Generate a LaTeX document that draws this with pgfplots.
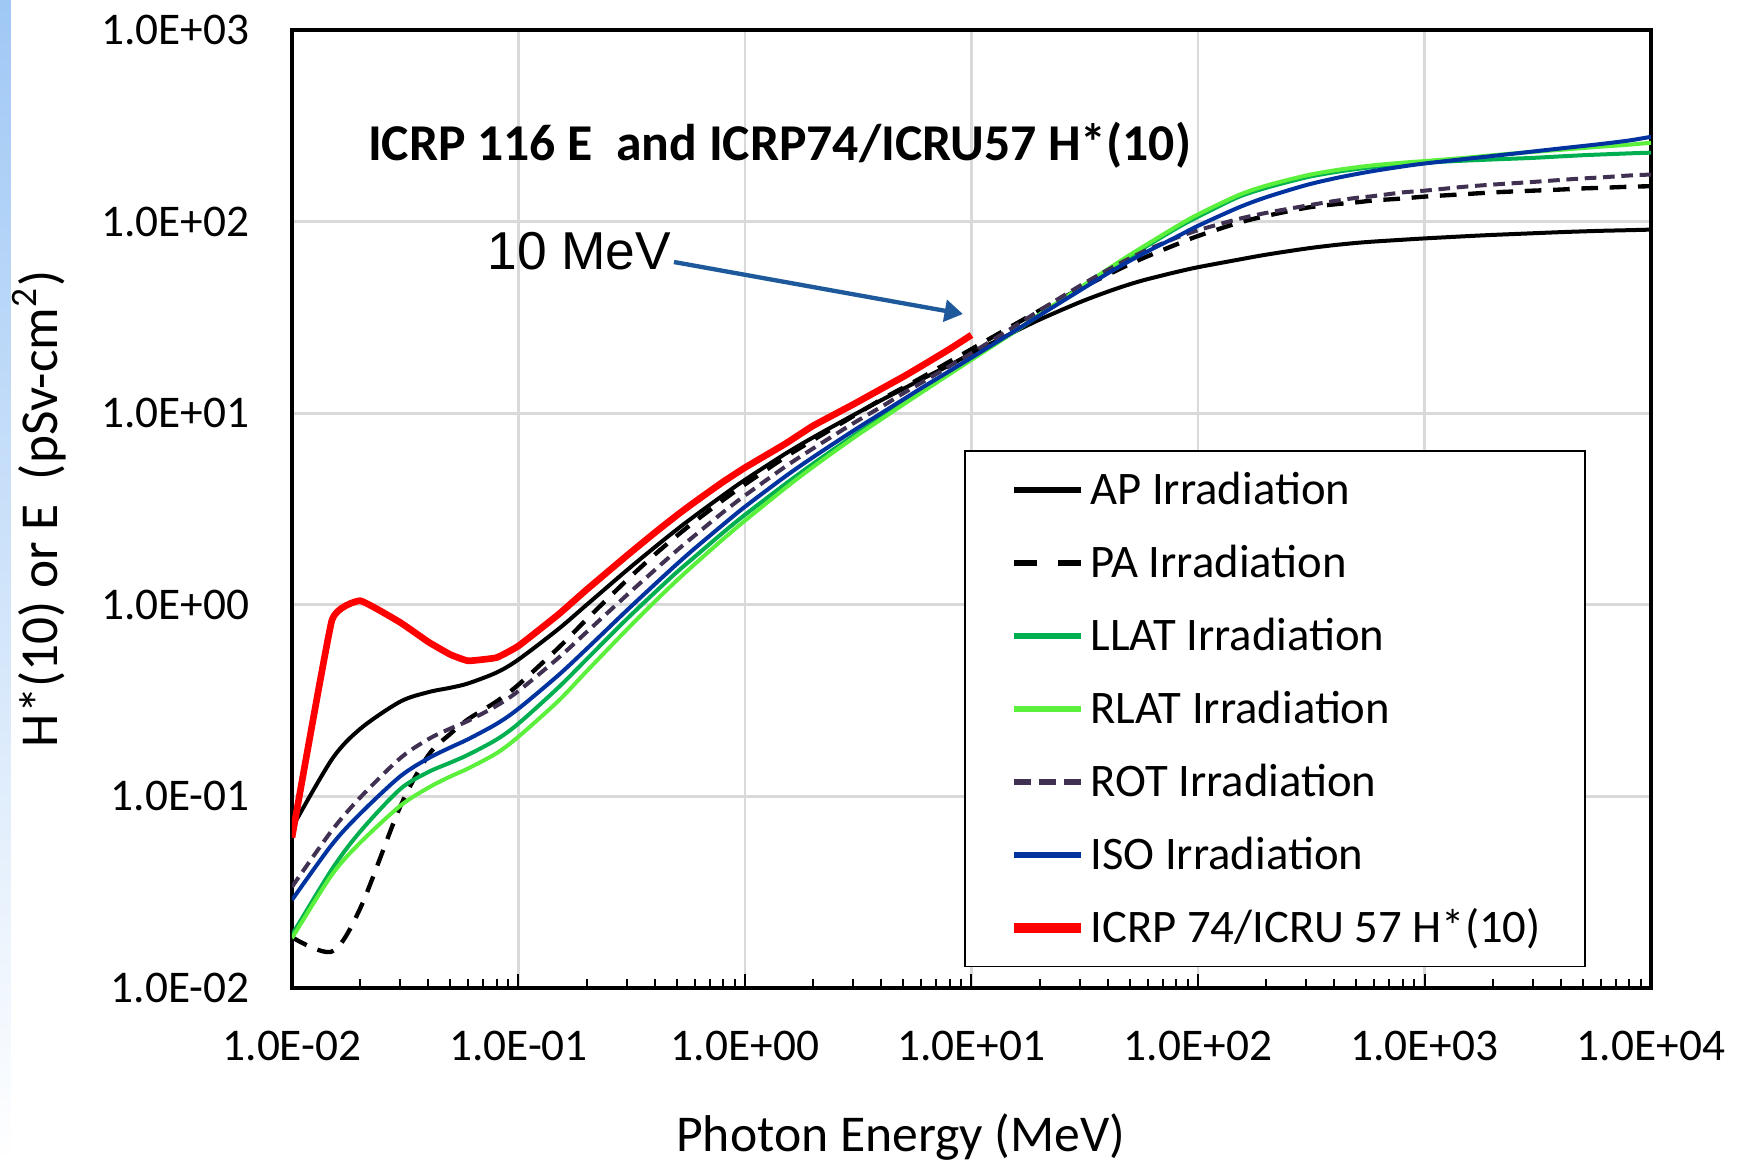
\documentclass[border=0pt]{standalone}
\usepackage{fontspec}
\setmainfont{Carlito}
\newfontfamily\arialfont{Liberation Sans}
\usepackage{pgfplots}
\usepackage{pgfplotstable}
\pgfplotsset{compat=1.18}
\usetikzlibrary{arrows.meta}

\definecolor{llat}{RGB}{0,176,80}
\definecolor{rlat}{RGB}{90,240,60}
\definecolor{rotc}{RGB}{64,49,82}
\definecolor{isoc}{RGB}{0,50,160}
\definecolor{arrowc}{RGB}{30,90,155}
\definecolor{gridc}{RGB}{217,217,217}

\pgfplotsset{
  legPA/.style={legend image code/.code={\path[draw=none] (-3.5pt,-3.7pt) -- (-3.5pt,3.7pt); \draw[black, line width=1.8pt, dash pattern=on 6.8pt off 6.4pt] (0pt,0pt) -- (20pt,0pt);}},
  legROT/.style={legend image code/.code={\path[draw=none] (-3.5pt,-3.7pt) -- (-3.5pt,3.7pt); \draw[rotc, line width=1.8pt, dash pattern=on 5pt off 2.5pt] (0pt,0pt) -- (20pt,0pt);}},
  legRED/.style={legend image code/.code={\path[draw=none] (-3.5pt,-3.7pt) -- (-3.5pt,3.7pt); \draw[red, line width=3pt] (0pt,0pt) -- (20pt,0pt);}},
}

\pgfplotstableread{
E AP PA LLAT RLAT ROT ISO
0.01 0.0685 0.0184 0.0189 0.0182 0.0337 0.0288
0.015 0.156 0.0155 0.0416 0.0390 0.0664 0.0560
0.02 0.225 0.0260 0.0655 0.0573 0.0986 0.0812
0.03 0.312 0.0880 0.109 0.0891 0.158 0.127
0.04 0.350 0.164 0.134 0.111 0.199 0.158
0.05 0.369 0.212 0.150 0.127 0.226 0.180
0.06 0.389 0.253 0.165 0.140 0.248 0.199
0.08 0.443 0.313 0.198 0.168 0.297 0.239
0.1 0.518 0.383 0.240 0.205 0.355 0.287
0.15 0.747 0.596 0.370 0.315 0.528 0.429
0.2 1.00 0.840 0.520 0.450 0.721 0.589
0.3 1.51 1.34 0.84 0.74 1.12 0.932
0.4 2.00 1.83 1.16 1.04 1.52 1.28
0.5 2.47 2.29 1.48 1.34 1.92 1.63
0.6 2.91 2.72 1.78 1.63 2.30 1.97
0.8 3.73 3.52 2.38 2.20 3.04 2.62
1 4.49 4.25 2.95 2.75 3.72 3.25
1.5 6.12 5.88 4.25 4.05 5.24 4.66
2 7.48 7.24 5.45 5.25 6.55 5.90
3 9.75 9.64 7.60 7.40 8.84 8.08
4 11.7 11.8 9.50 9.30 10.8 10.0
5 13.4 13.6 11.3 11.1 12.7 11.8
6 15.0 15.3 13.0 12.8 14.4 13.5
8 17.8 18.6 16.2 16.0 17.6 16.6
10 20.5 21.6 19.2 19.0 20.6 19.5
15 26.1 28.4 26.0 26.0 27.7 26.2
20 30.8 34.4 32.5 32.8 34.4 32.4
30 37.9 44.5 44.5 45.0 46.1 43.6
40 43.1 52.8 55.5 56.5 56.0 53.7
50 47.1 60.0 65.5 67.0 64.4 62.4
60 50.1 66.0 75.0 76.5 71.4 70.0
80 54.5 75.9 92.0 94.0 82.2 83.0
100 57.8 84.1 106 109 90.1 95.0
150 63.2 98.3 134 137 103 118
200 67.2 107 150 154 111 134
300 72.3 118 170 174 121 155
400 75.4 123 181 185 128 168
500 77.4 126 188 192 133 177
600 78.7 129 193 197 136 184
800 80.4 132 199 203 142 194
1000 81.7 135 203 207 145 201
1500 83.8 139 208 215 152 212
2000 85.2 142 211 222 156 220
3000 86.9 145 215 231 161 232
4000 88.1 147 219 237 165 241
5000 88.9 149 222 242 168 248
6000 89.5 150 224 246 170 254
8000 90.2 152 227 252 174 265
10000 90.8 153 229 258 176 277
}\effdose

\pgfplotstableread{
E H
0.01 0.061
0.015 0.83
0.02 1.05
0.03 0.81
0.04 0.64
0.05 0.55
0.06 0.51
0.08 0.53
0.1 0.61
0.15 0.89
0.2 1.20
0.3 1.80
0.4 2.38
0.5 2.93
0.6 3.44
0.8 4.38
1 5.20
1.5 6.90
2 8.60
3 11.1
4 13.4
5 15.5
6 17.6
8 21.6
10 25.6
}\hstar

\newcommand{\lstrut}{\rule[-2pt]{0pt}{12.6pt}}

\begin{document}
\begin{tikzpicture}
\useasboundingbox (-87.6pt,-53.4pt) rectangle (434.4pt,296.4pt);
\shade[top color={rgb,255:red,160;green,200;blue,245}, bottom color=white] (-87.6pt,-53.4pt) rectangle (-84.3pt,296.4pt);
\begin{axis}[
  scale only axis,
  width=407.7pt, height=287.4pt,
  xmode=log, ymode=log,
  xmin=1e-2, xmax=1e4, ymin=1e-2, ymax=1e3,
  xtick={1e-2,1e-1,1,10,100,1000,10000},
  xticklabels={1.0E-02,1.0E-01,1.0E+00,1.0E+01,1.0E+02,1.0E+03,1.0E+04},
  ytick={1e-2,1e-1,1,10,100,1000},
  yticklabels={1.0E-02,1.0E-01,1.0E+00,1.0E+01,1.0E+02,1.0E+03},
  minor xtick={2e-2,3e-2,4e-2,5e-2,6e-2,7e-2,8e-2,9e-2,
               0.2,0.3,0.4,0.5,0.6,0.7,0.8,0.9,
               2,3,4,5,6,7,8,9,
               20,30,40,50,60,70,80,90,
               200,300,400,500,600,700,800,900,
               2000,3000,4000,5000,6000,7000,8000,9000},
  yminorticks=false,
  xmajorgrids, ymajorgrids,
  grid style={gridc, line width=0.8pt},
  xtick pos=bottom, ytick pos=left,
  tick align=inside,
  major tick length=4.3pt, minor tick length=2.8pt,
  xtick style={black, line width=0.6pt},
  ytick style={draw=none},
  axis line style={black, line width=1.2pt},
  tick label style={font=\fontsize{13.6}{16}\selectfont},
  xticklabel style={anchor=center, yshift=-17.5pt},
  yticklabel style={anchor=east, xshift=-9.2pt},
  xlabel={Photon Energy (MeV)},
  xlabel style={at={(axis description cs:0.448,-0.1555)}, anchor=center, font=\fontsize{15.5}{18}\selectfont},
  ylabel={H*(10) or E~ (pSv-cm\textsuperscript{2})},
  ylabel style={at={(axis description cs:-0.186,0.5)}, anchor=center, rotate=0, font=\fontsize{16}{19}\selectfont},
  legend cell align=left,
  legend image code/.code={\path[draw=none] (-3.5pt,-3.7pt) -- (-3.5pt,3.7pt); \draw[#1, line width=1.8pt] (0pt,0pt) -- (20pt,0pt);},
  legend style={at={(0.4945,0.5616)}, anchor=north west, draw=black, line width=0.5pt,
    fill=white, font=\fontsize{14}{16}\selectfont,
    inner xsep=11.2pt, inner ysep=3.6pt, row sep=5.8pt,
    /tikz/every odd column/.append style={column sep=-0.5pt}},
]
\addplot[black, line width=1.2pt, smooth, tension=0.5] table[x=E, y=AP] {\effdose};
\addlegendentry{\lstrut AP Irradiation}
\addplot[black, line width=1.3pt, dash pattern=on 5pt off 3.5pt, smooth, tension=0.5, legPA] table[x=E, y=PA] {\effdose};
\addlegendentry{\lstrut PA Irradiation}
\addplot[llat, line width=1.2pt, smooth, tension=0.5] table[x=E, y=LLAT] {\effdose};
\addlegendentry{\lstrut LLAT Irradiation}
\addplot[rlat, line width=1.2pt, smooth, tension=0.5] table[x=E, y=RLAT] {\effdose};
\addlegendentry{\lstrut RLAT Irradiation}
\addplot[rotc, line width=1.2pt, dash pattern=on 3.5pt off 2pt, smooth, tension=0.5, legROT] table[x=E, y=ROT] {\effdose};
\addlegendentry{\lstrut ROT Irradiation}
\addplot[isoc, line width=1.2pt, smooth, tension=0.5] table[x=E, y=ISO] {\effdose};
\addlegendentry{\lstrut ISO Irradiation}
\addplot[red, line width=2pt, smooth, tension=0.2, legRED] table[x=E, y=H] {\hstar};
\addlegendentry{\lstrut ICRP 74/ICRU 57 H*(10)}

\node[font=\bfseries\fontsize{15.5}{18}\selectfont, anchor=center] at (axis description cs:0.3588,0.8796) {ICRP 116 E\ \ and ICRP74/ICRU57 H*(10)};
\node[font=\arialfont\fontsize{16}{19}\selectfont, anchor=center] at (axis description cs:0.2114,0.7695) {10 MeV};
\draw[arrowc, line width=1.3pt, -{Triangle[length=5.5pt,width=6.5pt]}] (axis description cs:0.2811,0.7578) -- (axis description cs:0.4937,0.7035);
\end{axis}
\end{tikzpicture}
\end{document}
